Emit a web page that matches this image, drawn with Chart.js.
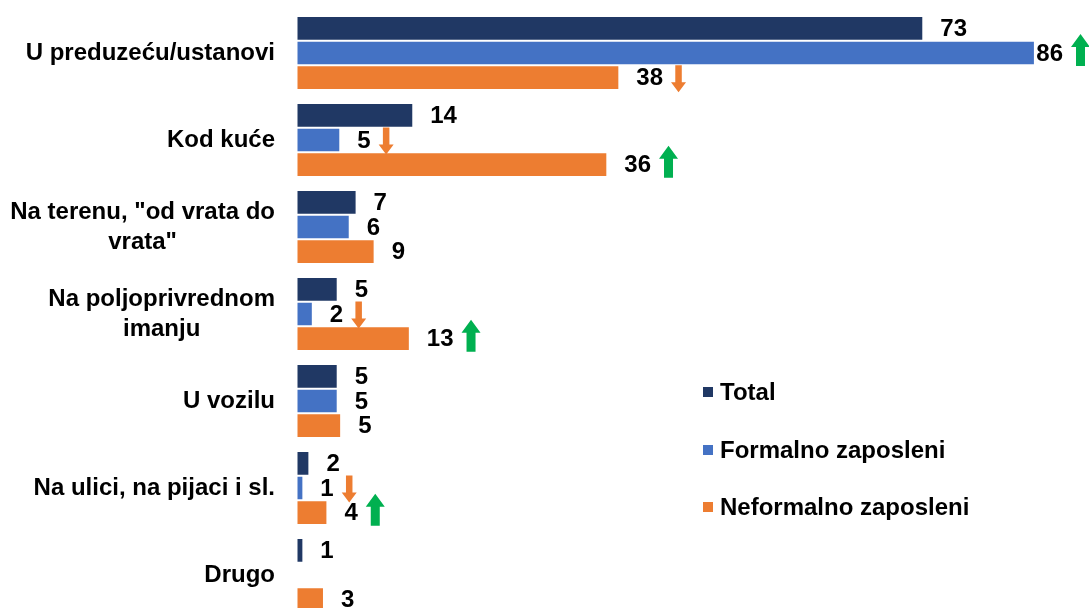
<!DOCTYPE html>
<html>
<head>
<meta charset="utf-8">
<script src="https://cdn.jsdelivr.net/npm/chart.js@4"></script>
<style>
  html, body { margin: 0; padding: 0; background: #fff; overflow: hidden; }
</style>
</head>
<body>
<canvas id="chart" width="1089" height="620"></canvas>
<script>
const categories = [
    'U preduzeću/ustanovi',
    'Kod kuće',
    ['Na terenu, "od vrata do', 'vrata"'],
    ['Na poljoprivrednom', 'imanju'],
    'U vozilu',
    'Na ulici, na pijaci i sl.',
    'Drugo',
];
const totalValues = [73, 13.6, 7, 4.8, 4.8, 1.5, 0.8];
const formalValues = [86, 5.1, 6.2, 1.9, 4.8, 0.8, null];
const informalValues = [37.6, 36.2, 9.1, 13.2, 5.2, 3.6, 3.2];

const seriesNames = ['Total', 'Formalno zaposleni', 'Neformalno zaposleni'];
const seriesColors = ['#203864', '#4472C4', '#ED7D31'];

// [category, series, direction] for the change arrows
const arrowMarks = [
    [0, 1, 'up'], [0, 2, 'down'],
    [1, 1, 'down'], [1, 2, 'up'],
    [3, 1, 'down'], [3, 2, 'up'],
    [5, 1, 'down'], [5, 2, 'up'],
];

const FONT = 'bold 24px "Liberation Sans", Arial, sans-serif';

function drawArrow(ctx, left, cy, dir) {
    ctx.beginPath();
    if (dir === 'up') {
        const w = 19, h = 32, shaft = 9, head = 13;
        const top = cy - 3 - h / 2, bottom = top + h;
        const s1 = left + (w - shaft) / 2, s2 = s1 + shaft;
        ctx.fillStyle = '#00B050';
        ctx.moveTo(left + w / 2, top);
        ctx.lineTo(left + w, top + head);
        ctx.lineTo(s2, top + head);
        ctx.lineTo(s2, bottom);
        ctx.lineTo(s1, bottom);
        ctx.lineTo(s1, top + head);
        ctx.lineTo(left, top + head);
    } else {
        const w = 15, h = 27, shaft = 6.5, head = 10;
        const top = cy + 1 - h / 2, bottom = top + h;
        const s1 = left + (w - shaft) / 2, s2 = s1 + shaft;
        ctx.fillStyle = '#ED7D31';
        ctx.moveTo(s1, top);
        ctx.lineTo(s2, top);
        ctx.lineTo(s2, bottom - head);
        ctx.lineTo(left + w, bottom - head);
        ctx.lineTo(left + w / 2, bottom);
        ctx.lineTo(left, bottom - head);
        ctx.lineTo(s1, bottom - head);
    }
    ctx.closePath();
    ctx.fill();
}

const textPlugin = {
    id: 'textPlugin',
    afterDatasetsDraw(chart) {
        const ctx = chart.ctx;
        const area = chart.chartArea;
        const yScale = chart.scales.y;
        ctx.save();
        ctx.font = FONT;
        ctx.fillStyle = '#000';
        ctx.textBaseline = 'middle';

        // category labels, block right aligned, lines centred
        ctx.textAlign = 'center';
        categories.forEach((cat, i) => {
            const lines = Array.isArray(cat) ? cat : [cat];
            const w = Math.max(...lines.map(l => ctx.measureText(l).width));
            const cx = area.left - 21.5 - w / 2;
            const cy = yScale.getPixelForValue(i);
            lines.forEach((l, k) => {
                ctx.fillText(l, cx, cy + (k - (lines.length - 1) / 2) * 30);
            });
        });

        // value labels and arrows
        ctx.textAlign = 'left';
        chart.data.datasets.forEach((ds, d) => {
            const meta = chart.getDatasetMeta(d);
            meta.data.forEach((bar, i) => {
                const v = ds.data[i];
                if (v === null || v === undefined) return;
                const txt = String(Math.round(v));
                const w = ctx.measureText(txt).width;
                const mark = arrowMarks.find(m => m[0] === i && m[1] === d);
                let x = bar.x + 17;
                if (mark) x = Math.min(x, area.right - w - 26);
                ctx.fillStyle = '#000';
                ctx.fillText(txt, x, bar.y + 1);
                if (mark) drawArrow(ctx, x + w + 8, bar.y, mark[2]);
            });
        });

        // legend
        const legendY = [392, 450, 507];
        seriesNames.forEach((name, k) => {
            ctx.fillStyle = seriesColors[k];
            ctx.fillRect(area.left + 406.5, legendY[k] - 5, 10, 10);
            ctx.fillStyle = '#000';
            ctx.fillText(name, area.left + 423.5, legendY[k] + 1);
        });
        ctx.restore();
    },
};

const data = {
    labels: categories,
    datasets: [totalValues, formalValues, informalValues].map((values, k) => ({
        label: seriesNames[k],
        data: values,
        backgroundColor: seriesColors[k],
        borderColor: '#ffffff',
        borderWidth: 1,
        borderSkipped: false,
        categoryPercentage: 0.85,
        barPercentage: 1.0,
    })),
};

const config = {
    type: 'bar',
    data: data,
    options: {
        indexAxis: 'y',
        responsive: false,
        animation: false,
        devicePixelRatio: 1,
        layout: {
            padding: { left: 296.5, top: 9.5, bottom: 1.5, right: 0 },
        },
        scales: {
            x: { display: false, min: 0, max: 92.3 },
            y: { display: false },
        },
        plugins: {
            legend: { display: false },
            tooltip: { enabled: false },
        },
    },
    plugins: [textPlugin],
};

const element = document.getElementById('chart');
const chart = new Chart(element, config);
</script>
</body>
</html>
